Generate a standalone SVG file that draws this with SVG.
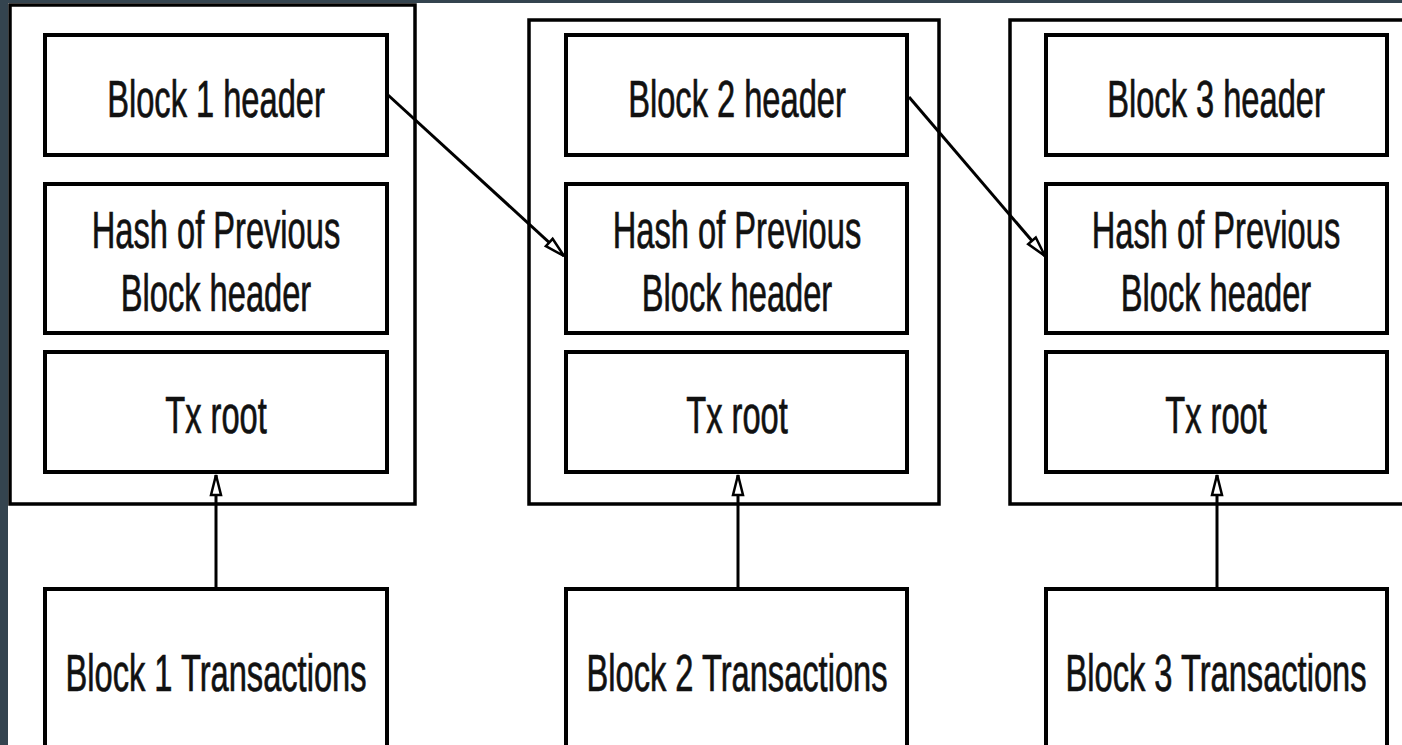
<svg xmlns="http://www.w3.org/2000/svg" width="1402" height="745" viewBox="0 0 1402 745">
<style>
.outer{fill:none;stroke:#000;stroke-width:3.5}
.box{fill:#fff;stroke:#000;stroke-width:4}
.t{font-family:"Liberation Sans",Arial,sans-serif;font-size:51px;fill:#111;stroke:#111;stroke-width:0.7;text-anchor:middle}
.conn{fill:none;stroke:#000;stroke-width:3}
</style>
<defs>
<marker id="arr" markerUnits="userSpaceOnUse" markerWidth="26" markerHeight="16" refX="22" refY="7" orient="auto" viewBox="0 0 26 14">
<path d="M2,2 L22,7 L2,12 Z" fill="#fff" stroke="#000" stroke-width="2.5"/>
</marker>
</defs>
<rect x="0" y="0" width="1402" height="745" fill="#34444f"/>
<rect x="8" y="3" width="1394" height="742" fill="#fff"/>

<g id="block1">
<rect class="outer" x="10" y="5" width="405" height="499"/>
</g>
<g id="block2">
<rect class="outer" x="529" y="20" width="410" height="484"/>
</g>
<g id="block3">
<path class="outer" d="M1402,20 H1010 V504 H1402"/>
</g>

<g id="b1-header"><rect class="box" x="45" y="35" width="342" height="120"/><text class="t" transform="translate(216,117) scale(0.64,1)">Block 1 header</text></g>
<g id="b1-hash"><rect class="box" x="45" y="184" width="342" height="149"/><text class="t" transform="translate(216,248) scale(0.64,1)">Hash of Previous</text><text class="t" transform="translate(216,311) scale(0.64,1)">Block header</text></g>
<g id="b1-txroot"><rect class="box" x="45" y="352" width="342" height="120"/><text class="t" transform="translate(216,433) scale(0.64,1)">Tx root</text></g>
<g id="b1-tx"><rect class="box" x="45" y="589" width="342" height="200"/><text class="t" transform="translate(216,691) scale(0.64,1)">Block 1 Transactions</text></g>

<g id="b2-header"><rect class="box" x="566" y="35" width="341" height="120"/><text class="t" transform="translate(737,117) scale(0.64,1)">Block 2 header</text></g>
<g id="b2-hash"><rect class="box" x="566" y="184" width="341" height="149"/><text class="t" transform="translate(737,248) scale(0.64,1)">Hash of Previous</text><text class="t" transform="translate(737,311) scale(0.64,1)">Block header</text></g>
<g id="b2-txroot"><rect class="box" x="566" y="352" width="341" height="120"/><text class="t" transform="translate(737,433) scale(0.64,1)">Tx root</text></g>
<g id="b2-tx"><rect class="box" x="566" y="589" width="341" height="200"/><text class="t" transform="translate(737,691) scale(0.64,1)">Block 2 Transactions</text></g>

<g id="b3-header"><rect class="box" x="1046" y="35" width="341" height="120"/><text class="t" transform="translate(1216,117) scale(0.64,1)">Block 3 header</text></g>
<g id="b3-hash"><rect class="box" x="1046" y="184" width="341" height="149"/><text class="t" transform="translate(1216,248) scale(0.64,1)">Hash of Previous</text><text class="t" transform="translate(1216,311) scale(0.64,1)">Block header</text></g>
<g id="b3-txroot"><rect class="box" x="1046" y="352" width="341" height="120"/><text class="t" transform="translate(1216,433) scale(0.64,1)">Tx root</text></g>
<g id="b3-tx"><rect class="box" x="1046" y="589" width="341" height="200"/><text class="t" transform="translate(1216,691) scale(0.64,1)">Block 3 Transactions</text></g>

<g id="connectors">
<line class="conn" x1="388" y1="95" x2="564" y2="256" marker-end="url(#arr)"/>
<line class="conn" x1="909" y1="97" x2="1045" y2="256" marker-end="url(#arr)"/>
<line class="conn" x1="216" y1="588" x2="216" y2="475" marker-end="url(#arr)"/>
<line class="conn" x1="738" y1="588" x2="738" y2="475" marker-end="url(#arr)"/>
<line class="conn" x1="1217" y1="588" x2="1217" y2="475" marker-end="url(#arr)"/>
</g>
</svg>
